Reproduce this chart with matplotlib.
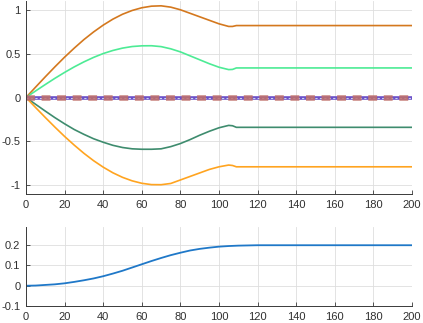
import matplotlib
matplotlib.use("Agg")
import matplotlib.pyplot as plt

plt.rcParams['font.family'] = ['Liberation Sans', 'DejaVu Sans']

# ---- data ----
t_top = [0, 5, 10, 15, 20, 25, 30, 35, 40, 45, 50, 55, 60, 65, 70, 75, 80, 85, 90, 95,
         100, 105, 107, 109, 120, 140, 160, 180, 200]
orange = [0, 0.119, 0.236, 0.350, 0.460, 0.563, 0.660, 0.747, 0.825, 0.893, 0.949, 0.992, 1.023,
          1.041, 1.045, 1.03, 1.0, 0.96, 0.92, 0.88, 0.84, 0.81, 0.81, 0.82, 0.82, 0.82, 0.82, 0.82, 0.82]
lgreen = [0, 0.075, 0.148, 0.219, 0.286, 0.349, 0.406, 0.457, 0.501, 0.536, 0.563, 0.581, 0.589,
          0.59, 0.58, 0.555, 0.52, 0.475, 0.43, 0.385, 0.345, 0.318, 0.32, 0.337, 0.337, 0.337, 0.337,
          0.337, 0.337]
dgreen = [0, -0.078, -0.155, -0.23, -0.30, -0.365, -0.42, -0.47, -0.51, -0.545, -0.57, -0.585, -0.59,
          -0.59, -0.585, -0.56, -0.525, -0.48, -0.43, -0.385, -0.345, -0.318, -0.322, -0.34, -0.34,
          -0.34, -0.34, -0.34, -0.34]
yellow = [0, -0.115, -0.228, -0.338, -0.444, -0.543, -0.636, -0.720, -0.794, -0.858, -0.910, -0.950,
          -0.978, -0.993, -0.994, -0.98, -0.94, -0.90, -0.86, -0.82, -0.79, -0.77, -0.775, -0.79, -0.79,
          -0.79, -0.79, -0.79, -0.79]
t_zero = [0, 200]
zero_line = [0, 0]

t_bot = [0, 5, 10, 15, 20, 25, 30, 35, 40, 45, 50, 55, 60, 65, 70, 75, 80, 85, 90, 95, 100, 105,
         110, 115, 120, 140, 160, 180, 200]
blue = [0, 0.001, 0.004, 0.007, 0.012, 0.019, 0.027, 0.036, 0.047, 0.06, 0.074, 0.09, 0.106, 0.122,
        0.137, 0.151, 0.163, 0.174, 0.182, 0.188, 0.193, 0.196, 0.198, 0.199, 0.2, 0.2, 0.2, 0.2, 0.2]

xticks = [0, 20, 40, 60, 80, 100, 120, 140, 160, 180, 200]
yticks_top = [-1, -0.5, 0, 0.5, 1]
yticklabels_top = ['-1', '-0.5', '0', '0.5', '1']
yticks_bot = [-0.1, 0, 0.1, 0.2]
yticklabels_bot = ['-0.1', '0', '0.1', '0.2']

W, H = 423, 323
fig = plt.figure(figsize=(W / 100, H / 100), dpi=100)

ax1 = fig.add_axes([26 / W, 1 - 194 / H, (412 - 26) / W, (194 - 1) / H])
ax2 = fig.add_axes([26 / W, 1 - 306 / H, (412 - 26) / W, (306 - 227) / H])

txtc = '#303030'
for ax in (ax1, ax2):
    ax.set_xlim(0, 200)
    ax.set_xticks(xticks)
    ax.set_xticklabels([str(v) for v in xticks])
    ax.grid(True, color='#dedede', linewidth=0.6)
    ax.set_axisbelow(True)
    for s in ('top', 'right'):
        ax.spines[s].set_visible(False)
    for s in ('left', 'bottom'):
        ax.spines[s].set_color('#3a3a3a')
        ax.spines[s].set_linewidth(0.7)
    ax.tick_params(direction='in', length=3, width=0.6, color='#3a3a3a',
                   labelsize=8, labelcolor=txtc, pad=4)

ax1.set_ylim(-1.1, 1.1)
ax1.set_yticks(yticks_top)
ax1.set_yticklabels(yticklabels_top)
ax2.set_ylim(-0.1, 0.29)
ax2.set_yticks(yticks_bot)
ax2.set_yticklabels(yticklabels_bot)

lw = 1.2
ax1.plot(t_top, orange, color='#D4781E', lw=lw)
ax1.plot(t_top, lgreen, color='#4DEB95', lw=lw)
ax1.plot(t_top, dgreen, color='#3E8C6E', lw=lw)
ax1.plot(t_top, yellow, color='#FFA420', lw=lw)
ax1.plot(t_zero, zero_line, color='#6A4FC8', lw=2.6)
ax1.plot(t_zero, zero_line, color='#c9d6f2', lw=0.8, linestyle=(0, (2, 2)))
ax1.plot(t_zero, zero_line, color='#C0706A', lw=4.0, alpha=0.85, linestyle=(0, (1.6, 1.2)))

ax2.plot(t_bot, blue, color='#1F78C8', lw=1.3)

fig.savefig('out.png', dpi=100)
